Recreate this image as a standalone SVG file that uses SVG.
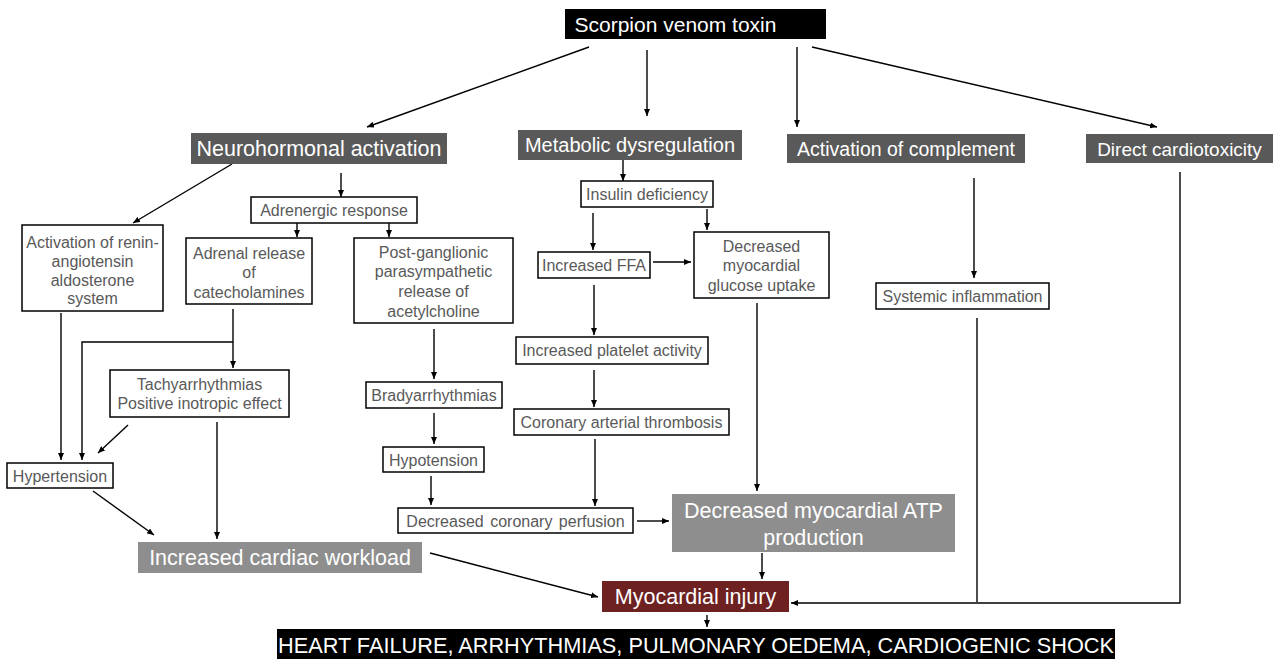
<svg xmlns="http://www.w3.org/2000/svg" width="1273" height="659" viewBox="0 0 1273 659">
<defs>
<marker id="ah" markerWidth="8" markerHeight="6" refX="7" refY="3" orient="auto" markerUnits="userSpaceOnUse">
<path d="M0,0 L7,3 L0,6 z" fill="#000"/>
</marker>
<style>
text{font-family:"Liberation Sans",Arial,sans-serif;text-anchor:middle}
.box{fill:#fff;stroke:#000;stroke-width:1.5}
.t{font-size:16px;fill:#595959}
.dk{fill:#595959}
.gr{fill:#8e8e8e}
.w{fill:#fff}
.c line,.c polyline{stroke:#000;stroke-width:1.4;fill:none}
.c .a{marker-end:url(#ah)}
</style>
</defs>
<rect width="1273" height="659" fill="#fff"/>

<g class="c" id="connectors">
<line class="a" x1="589" y1="47" x2="367" y2="127"/>
<line class="a" x1="647" y1="50" x2="647" y2="116"/>
<line class="a" x1="797" y1="47" x2="797" y2="127"/>
<line class="a" x1="812" y1="47" x2="1157" y2="127"/>
<line class="a" x1="232" y1="164" x2="133" y2="223"/>
<line class="a" x1="341" y1="173" x2="341" y2="197"/>
<line class="a" x1="623" y1="160" x2="623" y2="181"/>
<line class="a" x1="974" y1="178" x2="974" y2="278"/>
<polyline class="a" points="1180,172 1180,603 791,603"/>
<line class="a" x1="297" y1="223" x2="297" y2="237"/>
<line class="a" x1="389" y1="223" x2="389" y2="237"/>
<line class="a" x1="593" y1="213" x2="593" y2="250"/>
<line class="a" x1="707" y1="209" x2="707" y2="230"/>
<line class="a" x1="653" y1="262" x2="691" y2="262"/>
<line class="a" x1="61" y1="313" x2="61" y2="460"/>
<line class="a" x1="233" y1="309" x2="233" y2="368"/>
<polyline class="a" points="233,342 82,342 82,460"/>
<line class="a" x1="128" y1="425" x2="98" y2="453"/>
<line class="a" x1="217" y1="422" x2="217" y2="539"/>
<line class="a" x1="93" y1="491" x2="154" y2="535"/>
<line class="a" x1="434" y1="329" x2="434" y2="379"/>
<line class="a" x1="434" y1="413" x2="434" y2="444"/>
<line class="a" x1="431" y1="476" x2="431" y2="505"/>
<line class="a" x1="594" y1="285" x2="594" y2="335"/>
<line class="a" x1="594" y1="370" x2="594" y2="407"/>
<line class="a" x1="595" y1="439" x2="595" y2="506"/>
<line class="a" x1="757" y1="303" x2="757" y2="491"/>
<line class="a" x1="637" y1="521" x2="669" y2="521"/>
<line class="a" x1="762" y1="553" x2="762" y2="579"/>
<line class="a" x1="430" y1="553" x2="598" y2="597"/>
<line x1="977" y1="318" x2="977" y2="602"/>
<line class="a" x1="707" y1="615" x2="707" y2="627"/>
</g>

<g id="toxin">
<rect x="565" y="9" width="261" height="30" fill="#000"/>
<text class="w" x="675.5" y="31.5" font-size="21">Scorpion venom toxin</text>
</g>
<g id="neuro">
<rect class="dk" x="191" y="133" width="256" height="31"/>
<text class="w" x="319" y="156" font-size="21.5">Neurohormonal activation</text>
</g>
<g id="metabolic">
<rect class="dk" x="518" y="130" width="224" height="30"/>
<text class="w" x="630" y="152" font-size="20">Metabolic dysregulation</text>
</g>
<g id="complement">
<rect class="dk" x="787" y="134" width="238" height="29"/>
<text class="w" x="906" y="155.5" font-size="19.5">Activation of complement</text>
</g>
<g id="direct">
<rect class="dk" x="1086" y="134" width="187" height="29"/>
<text class="w" x="1179.5" y="155.5" font-size="19">Direct cardiotoxicity</text>
</g>

<g id="adrenergic">
<rect class="box" x="251" y="197" width="166" height="26"/>
<text class="t" x="334" y="215.5">Adrenergic response</text>
</g>
<g id="raas">
<rect class="box" x="22" y="225" width="141" height="86"/>
<text class="t" x="92.5" y="247.5">Activation of renin-</text>
<text class="t" x="92.5" y="266.5">angiotensin</text>
<text class="t" x="92.5" y="285.5">aldosterone</text>
<text class="t" x="92.5" y="304">system</text>
</g>
<g id="adrenal">
<rect class="box" x="186" y="238" width="126" height="66"/>
<text class="t" x="249" y="258.5">Adrenal release</text>
<text class="t" x="249" y="278">of</text>
<text class="t" x="249" y="297.5">catecholamines</text>
</g>
<g id="postganglionic">
<rect class="box" x="354" y="238" width="159" height="85"/>
<text class="t" x="433.5" y="257.5">Post-ganglionic</text>
<text class="t" x="433.5" y="277">parasympathetic</text>
<text class="t" x="433.5" y="297">release of</text>
<text class="t" x="433.5" y="316.5">acetylcholine</text>
</g>
<g id="insulin">
<rect class="box" x="581" y="181" width="132" height="26"/>
<text class="t" x="647" y="199.5">Insulin deficiency</text>
</g>
<g id="ffa">
<rect class="box" x="538" y="252" width="112" height="26"/>
<text class="t" x="594" y="270.5">Increased FFA</text>
</g>
<g id="glucose">
<rect class="box" x="694" y="232" width="135" height="66"/>
<text class="t" x="761.5" y="251.5">Decreased</text>
<text class="t" x="761.5" y="271">myocardial</text>
<text class="t" x="761.5" y="290.5">glucose uptake</text>
</g>
<g id="inflammation">
<rect class="box" x="876" y="283" width="173" height="26"/>
<text class="t" x="962.5" y="301.5" font-size="15.5">Systemic inflammation</text>
</g>
<g id="platelet">
<rect class="box" x="516" y="337" width="192" height="27"/>
<text class="t" x="612" y="356">Increased platelet activity</text>
</g>
<g id="thrombosis">
<rect class="box" x="514" y="409" width="215" height="26"/>
<text class="t" x="621.5" y="427.5">Coronary arterial thrombosis</text>
</g>
<g id="tachy">
<rect class="box" x="110" y="370" width="179" height="47"/>
<text class="t" x="199.5" y="389.5">Tachyarrhythmias</text>
<text class="t" x="199.5" y="408.5">Positive inotropic effect</text>
</g>
<g id="brady">
<rect class="box" x="366" y="382" width="136" height="26"/>
<text class="t" x="434" y="400.5">Bradyarrhythmias</text>
</g>
<g id="hypotension">
<rect class="box" x="383" y="447" width="101" height="25"/>
<text class="t" x="433.5" y="465.5">Hypotension</text>
</g>
<g id="hypertension">
<rect class="box" x="7" y="463" width="106" height="25"/>
<text class="t" x="60" y="481.5">Hypertension</text>
</g>
<g id="perfusion">
<rect class="box" x="398" y="508" width="235" height="25"/>
<text class="t" x="515.5" y="526.5" word-spacing="2">Decreased coronary perfusion</text>
</g>
<g id="workload">
<rect class="gr" x="138" y="542" width="284" height="31"/>
<text class="w" x="280" y="565" font-size="21.5">Increased cardiac workload</text>
</g>
<g id="atp">
<rect class="gr" x="672" y="494" width="283" height="58"/>
<text class="w" x="813.5" y="517.5" font-size="21.5">Decreased myocardial ATP</text>
<text class="w" x="813.5" y="544.5" font-size="21.5">production</text>
</g>
<g id="injury">
<rect x="602" y="581" width="187" height="31" fill="#6d2121"/>
<text class="w" x="695.5" y="604" font-size="21.5">Myocardial injury</text>
</g>
<g id="outcomes">
<rect x="277" y="629" width="838" height="30" fill="#000"/>
<text class="w" x="696" y="653" font-size="22" textLength="836" lengthAdjust="spacingAndGlyphs">HEART FAILURE, ARRHYTHMIAS, PULMONARY OEDEMA, CARDIOGENIC SHOCK</text>
</g>
</svg>
